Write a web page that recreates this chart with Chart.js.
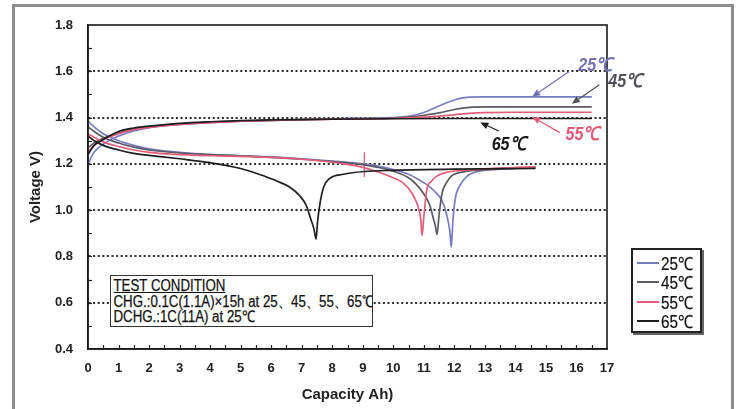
<!DOCTYPE html>
<html><head><meta charset="utf-8">
<script src="https://cdn.jsdelivr.net/npm/chart.js@4/dist/chart.umd.min.js"></script>
<style>
html,body{margin:0;padding:0;background:#fff;}
#wrap{position:relative;width:739px;height:409px;overflow:hidden;background:#fff;}
#frame{position:absolute;left:12px;top:4px;width:716px;height:440px;border:3px solid #8c8c8c;}
canvas{position:absolute;left:0;top:0;}
#tc{position:absolute;left:110px;top:275px;width:263px;height:52px;border:1.3px solid #333;background:#fff;box-sizing:border-box;overflow:hidden;}
#tc .in{transform:scaleX(0.83);transform-origin:0 0;white-space:nowrap;padding:2px 0 0 3px;
 font-family:"Liberation Sans",Arial,sans-serif;font-size:16px;color:#111;line-height:15.5px;-webkit-text-stroke:0.25px #111;}
#tc u{text-decoration:underline;}
#legend{position:absolute;left:631px;top:248px;width:71px;height:85px;border:2px solid #222;box-shadow:2px 2px 0 #666;background:#fff;box-sizing:border-box;padding-top:3px;}
.li{height:19.5px;display:flex;align-items:center;}
.li span.sw{display:inline-block;width:22px;height:2px;margin:0 2px 0 4px;flex:none;}
.li span.tx{display:inline-block;transform:scaleX(0.85);transform-origin:0 50%;font-family:"Liberation Sans",Arial,sans-serif;font-size:18px;color:#111;-webkit-text-stroke:0.2px #111;white-space:nowrap;}
</style></head>
<body>
<div id="wrap">
<div id="frame"></div>
<canvas id="c" width="739" height="409"></canvas>
<div id="tc"><div class="in"><u>TEST CONDITION</u><br>CHG.:0.1C(1.1A)×15h at 25、45、55、65℃<br>DCHG.:1C(11A) at 25℃</div></div>
<div id="legend"></div>
</div>
<script>
// ---- data ----
const seriesLabels = ['25℃','45℃','55℃','65℃'];
const seriesColors = ['#7a7cc0','#5a5a62','#e35d7a','#1e1e1e'];

// discharge curves (capacity Ah, voltage V)
const dis25X = [0,0.2,0.5,1,1.5,2,3,4,5,6,7,8,9,9.5,10,10.5,10.8,11.1,11.4,11.6,11.75,11.85,11.9,11.95,12.03,12.2,12.4,12.7,13,14,14.66];
const dis25V = [1.385,1.36,1.33,1.30,1.28,1.265,1.25,1.24,1.235,1.23,1.222,1.212,1.2,1.19,1.175,1.155,1.135,1.11,1.075,1.04,0.98,0.91,0.84,0.95,1.05,1.11,1.145,1.165,1.172,1.18,1.185];
const dis45X = [0,0.2,0.5,1,1.5,2,3,4,5,6,7,8,9,9.5,10,10.5,10.8,11.0,11.2,11.3,11.38,11.43,11.5,11.6,11.75,11.9,12.2,12.5,13.5,14.66];
const dis45V = [1.36,1.34,1.315,1.29,1.272,1.26,1.247,1.24,1.235,1.228,1.22,1.21,1.197,1.185,1.168,1.14,1.105,1.07,1.02,0.97,0.93,0.895,0.98,1.075,1.12,1.147,1.163,1.17,1.178,1.185];
const dis55X = [0,0.2,0.5,1,1.5,2,3,4,5,6,7,8,8.5,9,9.5,10,10.3,10.6,10.8,10.9,10.94,11.0,11.1,11.25,11.43,11.8,12.1,13,14.66];
const dis55V = [1.33,1.315,1.295,1.275,1.26,1.25,1.24,1.235,1.232,1.228,1.22,1.207,1.198,1.185,1.165,1.14,1.12,1.075,1.02,0.96,0.89,0.97,1.09,1.125,1.147,1.165,1.17,1.178,1.188];
const dis65X = [0,0.2,0.5,1,1.5,2,3,4,5,5.6,6.2,6.6,6.95,7.15,7.3,7.4,7.47,7.52,7.6,7.72,7.9,8.37,9.05,10,12,14.66];
const dis65V = [1.32,1.3,1.28,1.26,1.245,1.237,1.222,1.205,1.18,1.155,1.125,1.1,1.06,1.02,0.96,0.92,0.875,0.95,1.03,1.1,1.135,1.155,1.167,1.172,1.177,1.18];

// charge curves
const chg25X = [0,0.2,0.5,1,1.5,2,3,4,5,6,8,10,10.5,11,11.5,12,12.4,13,14,15,16.5];
const chg25V = [1.2,1.25,1.285,1.32,1.342,1.356,1.37,1.378,1.384,1.388,1.395,1.4,1.405,1.422,1.45,1.476,1.487,1.489,1.489,1.489,1.489];
const chg45X = [0,0.2,0.5,1,1.5,2,3,4,5,6,8,10,10.5,11,11.5,12,12.5,13,16.5];
const chg45V = [1.27,1.29,1.31,1.333,1.35,1.36,1.372,1.38,1.385,1.388,1.394,1.398,1.402,1.41,1.42,1.435,1.444,1.446,1.446];
const chg55X = [0,0.2,0.5,1,1.5,2,3,4,5,6,8,10,11,12,12.5,13,14,16.5];
const chg55V = [1.25,1.28,1.305,1.33,1.348,1.358,1.37,1.378,1.384,1.388,1.393,1.396,1.402,1.412,1.418,1.421,1.423,1.423];
const chg65X = [0,0.2,0.5,1,1.5,2,3,4,5,6,8,10,12,16.5];
const chg65V = [1.24,1.28,1.305,1.34,1.355,1.363,1.375,1.382,1.387,1.39,1.393,1.395,1.396,1.396];

// small red marker
const markX = [9.05,9.05];
const markV = [1.25,1.142];

// axis ticks
const xTickStep = 1, xMin = 0, xMax = 17;
const yTickStep = 0.2, yMin = 0.4, yMax = 1.8;

// annotations (label, text position, arrow tail, arrow head) in data units
const annoLabels = ['25℃','45℃','55℃','65℃'];
const annoTextX = [16.62,17.6,16.2,13.78];
const annoTextV = [1.624,1.555,1.327,1.284];
const annoFromX = [15.75,16.75,15.45,13.45];
const annoFromV = [1.598,1.542,1.335,1.342];
const annoToX = [14.55,15.85,14.55,12.85];
const annoToV = [1.490,1.460,1.404,1.379];
const annoColors = ['#7072b4','#505058','#e05a78','#1a1a1a'];

// ---- build ----
const pts = (xs, vs) => xs.map((x, i) => ({x: x, y: vs[i]}));
const disSets = [[dis25X,dis25V],[dis45X,dis45V],[dis55X,dis55V],[dis65X,dis65V]];
const chgSets = [[chg25X,chg25V],[chg45X,chg45V],[chg55X,chg55V],[chg65X,chg65V]];
const datasets = [];
for (let i = 3; i >= 0; i--) {
  datasets.push({label: seriesLabels[i]+' charge', data: pts(chgSets[i][0], chgSets[i][1]), borderColor: seriesColors[i], borderWidth: 1.7, showLine: true, pointRadius: 0, cubicInterpolationMode: 'monotone'});
  datasets.push({label: seriesLabels[i]+' discharge', data: pts(disSets[i][0], disSets[i][1]), borderColor: seriesColors[i], borderWidth: 1.7, showLine: true, pointRadius: 0, cubicInterpolationMode: 'monotone'});
}
datasets.push({label: 'marker', data: pts(markX, markV), borderColor: '#e35d7a', borderWidth: 1.3, showLine: true, pointRadius: 0});

const tickFont = {family: '"Liberation Sans", Arial, sans-serif', size: 13, weight: 'bold'};
const titleFont = {family: '"Liberation Sans", Arial, sans-serif', size: 15, weight: 'bold'};

const framePlugin = {
  id: 'frame',
  afterDraw(chart) {
    const {ctx, chartArea: a, scales: {x, y}} = chart;
    ctx.save();
    // minor ticks
    ctx.strokeStyle = '#222'; ctx.lineWidth = 1.2;
    for (let v = yMin + 0.1; v < yMax - 0.01; v += 0.1) {
      const py = Math.round(y.getPixelForValue(v)) + 0.5;
      ctx.beginPath(); ctx.moveTo(a.left, py); ctx.lineTo(a.left + 4, py); ctx.stroke();
    }
    for (let v = xMin + 0.5; v < xMax - 0.01; v += 0.5) {
      const px = Math.round(x.getPixelForValue(v)) + 0.5;
      ctx.beginPath(); ctx.moveTo(px, a.bottom); ctx.lineTo(px, a.bottom - 4); ctx.stroke();
    }
    // frame
    ctx.strokeStyle = '#1a1a1a'; ctx.lineWidth = 1.6;
    ctx.strokeRect(a.left, a.top, a.right - a.left, a.bottom - a.top);
    // annotations
    for (let i = 0; i < annoLabels.length; i++) {
      const tx = x.getPixelForValue(annoTextX[i]), ty = y.getPixelForValue(annoTextV[i]);
      const fx = x.getPixelForValue(annoFromX[i]), fy = y.getPixelForValue(annoFromV[i]);
      const hx = x.getPixelForValue(annoToX[i]), hy = y.getPixelForValue(annoToV[i]);
      ctx.strokeStyle = annoColors[i]; ctx.fillStyle = annoColors[i]; ctx.lineWidth = 1.2;
      const ang = Math.atan2(hy - fy, hx - fx);
      const hl = 8, hw = 3.5;
      const bx = hx - hl * Math.cos(ang), by = hy - hl * Math.sin(ang);
      ctx.beginPath(); ctx.moveTo(fx, fy); ctx.lineTo(bx, by); ctx.stroke();
      ctx.beginPath(); ctx.moveTo(hx, hy);
      ctx.lineTo(bx + hw * Math.sin(ang), by - hw * Math.cos(ang));
      ctx.lineTo(bx - hw * Math.sin(ang), by + hw * Math.cos(ang));
      ctx.closePath(); ctx.fill();
      ctx.save();
      ctx.translate(tx, ty); ctx.scale(0.85, 1);
      ctx.font = 'italic bold 19px "Liberation Sans", Arial, sans-serif';
      ctx.textAlign = 'center'; ctx.textBaseline = 'middle';
      ctx.fillText(annoLabels[i], 0, 0);
      ctx.restore();
    }
    ctx.restore();
  }
};

new Chart(document.getElementById('c'), {
  type: 'scatter',
  data: {datasets},
  options: {
    responsive: false, animation: false, devicePixelRatio: 1,
    layout: {padding: {left: 27, top: 25, right: 132, bottom: 5}},
    plugins: {legend: {display: false}, tooltip: {enabled: false}},
    scales: {
      x: {
        type: 'linear', min: xMin, max: xMax,
        ticks: {stepSize: xTickStep, padding: 12, font: tickFont, color: '#222', maxRotation: 0, autoSkip: false},
        grid: {display: false, drawTicks: false},
        border: {display: true, color: '#1a1a1a', width: 1.5},
        title: {display: true, text: 'Capacity Ah)', font: titleFont, color: '#222', padding: 0},
        afterFit: s => { s.height = 55; }
      },
      y: {
        type: 'linear', min: yMin, max: yMax,
        ticks: {stepSize: yTickStep, padding: 15, font: tickFont, color: '#222', callback: v => Number(v).toFixed(1)},
        grid: {drawTicks: false, lineWidth: 2,
          color: c => (Math.abs(c.tick.value - yMin) < 1e-6 || Math.abs(c.tick.value - yMax) < 1e-6) ? 'rgba(0,0,0,0)' : '#2a2a2a'},
        border: {display: true, color: '#1a1a1a', width: 1.5, dash: [2, 2.6]},
        title: {display: true, text: 'Voltage V)', font: titleFont, color: '#222', padding: 0},
        afterFit: s => { s.width = 61; }
      }
    }
  },
  plugins: [framePlugin]
});

// HTML legend
const lg = document.getElementById('legend');
seriesLabels.forEach((l, i) => {
  const d = document.createElement('div'); d.className = 'li';
  const sw = document.createElement('span'); sw.className = 'sw'; sw.style.background = seriesColors[i];
  const tx = document.createElement('span'); tx.className = 'tx'; tx.textContent = l;
  d.appendChild(sw); d.appendChild(tx); lg.appendChild(d);
});
</script>
</body></html>
